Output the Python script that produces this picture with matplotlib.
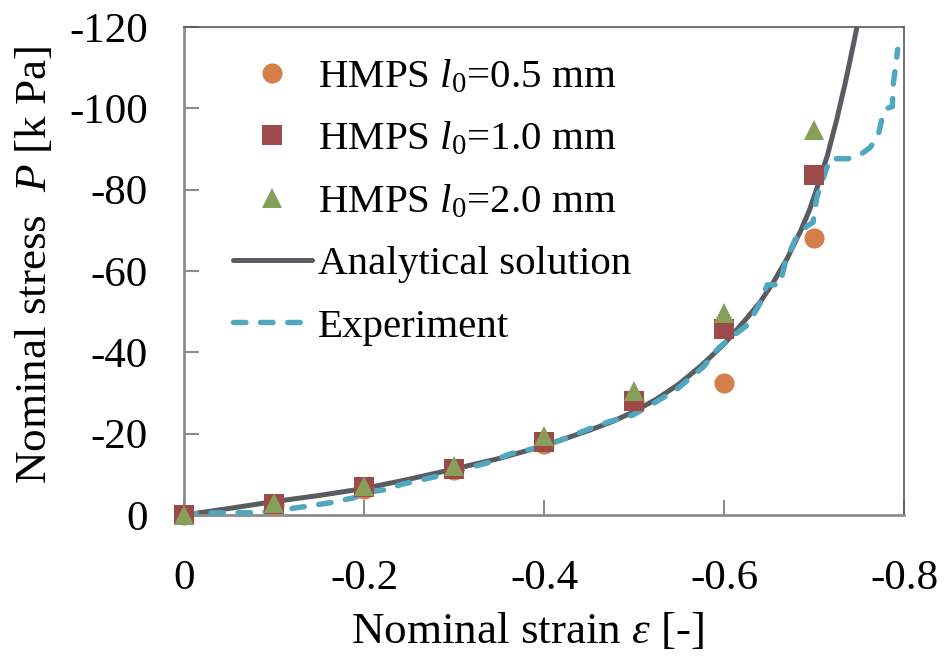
import matplotlib
matplotlib.use("Agg")
import matplotlib.pyplot as plt
import numpy as np

plt.rcParams['font.family'] = ['Liberation Serif', 'DejaVu Serif']
plt.rcParams['mathtext.fontset'] = 'custom'
plt.rcParams['mathtext.rm'] = 'Liberation Serif'
plt.rcParams['mathtext.it'] = 'Liberation Serif:italic'
plt.rcParams['mathtext.bf'] = 'Liberation Serif:bold'

# ---- data ----
hmps_strain = [0, -0.1, -0.2, -0.3, -0.4, -0.5, -0.6, -0.7]
hmps_05 = [0, -2.5, -6.5, -11.0, -17.5, -28.0, -32.5, -68.0]
hmps_10 = [0, -2.7, -6.8, -11.2, -18.0, -28.0, -45.8, -83.6]
hmps_20 = [0, -3.0, -7.2, -12.0, -19.5, -30.5, -49.7, -94.7]

anal_strain = [0, -0.05, -0.1, -0.15, -0.2, -0.25, -0.3, -0.35, -0.4, -0.45,
               -0.475, -0.5, -0.525, -0.55, -0.575, -0.6, -0.625, -0.64,
               -0.655, -0.67, -0.685, -0.695, -0.705, -0.715, -0.725, -0.735,
               -0.745, -0.755]
anal_stress = [0, -1.6, -3.3, -4.8, -6.5, -8.8, -11.3, -13.9, -17.0, -20.8,
               -22.9, -25.4, -28.5, -32.2, -36.8, -42.0, -48.3, -52.3,
               -57.3, -63.0, -69.8, -75.0, -81.5, -88.5, -97.0, -106.5,
               -117.0, -128.0]

exp_strain = [0, -0.018, -0.081, -0.107, -0.132, -0.162, -0.188, -0.207, -0.223,
              -0.243, -0.277, -0.303, -0.337, -0.362, -0.392, -0.42, -0.448,
              -0.473, -0.499, -0.526, -0.548, -0.577, -0.592, -0.604, -0.626,
              -0.64, -0.648, -0.662, -0.668, -0.679, -0.692, -0.699, -0.703,
              -0.712, -0.718, -0.738, -0.754, -0.762, -0.771, -0.776, -0.781,
              -0.787, -0.788, -0.792, -0.793]
exp_stress = [0, -0.5, -0.6, -1.2, -2.0, -3.0, -4.2, -5.7, -6.2, -7.6, -9.3,
              -10.8, -12.8, -15.0, -16.5, -18.5, -21.0, -23.0, -24.6, -28.0,
              -31.0, -36.4, -40.6, -43.0, -46.7, -52.0, -56.6, -56.6, -62.0,
              -67.7, -71.0, -72.0, -78.0, -84.0, -87.6, -87.6, -89.0, -90.3,
              -93.0, -98.0, -100.0, -100.4, -105.8, -112.7, -114.5]

labels = ['HMPS $l_0$=0.5 mm', 'HMPS $l_0$=1.0 mm', 'HMPS $l_0$=2.0 mm',
          'Analytical solution', 'Experiment']

x_ticks = [0, -0.2, -0.4, -0.6, -0.8]
x_ticklabels = ['0', '-0.2', '-0.4', '-0.6', '-0.8']
y_ticks = [0, -20, -40, -60, -80, -100, -120]

# ---- figure ----
fig = plt.figure(figsize=(9.47, 6.64), dpi=100)
ax = fig.add_axes([184/947, 1 - 515/664, 720/947, 488/664])

c_orange = '#D5804A'
c_red = '#9D4A4B'
c_green = '#879F58'
c_gray = '#595C60'
c_blue = '#4FA8C0'

l_anal, = ax.plot(anal_strain, anal_stress, color=c_gray, lw=3.6,
                  solid_capstyle='round', zorder=2)
l_exp, = ax.plot(exp_strain, exp_stress, color=c_blue, lw=3.9,
                 dashes=(2.3, 2.7), dash_capstyle='round', zorder=3)
m1, = ax.plot(hmps_strain, hmps_05, 'o', color=c_orange, ms=14.5, mew=0,
              zorder=4, clip_on=False)
m2, = ax.plot(hmps_strain, hmps_10, 's', color=c_red, ms=14.5, mew=0,
              zorder=5, clip_on=False)
m3, = ax.plot(hmps_strain, hmps_20, '^', color=c_green, ms=15, mew=0,
              zorder=6, clip_on=False)

ax.set_xlim(0, -0.8)
ax.set_ylim(0, -120)
ax.set_xticks(x_ticks)
ax.set_xticklabels(x_ticklabels)
ax.set_yticks(y_ticks)
ax.set_yticklabels([str(v) for v in y_ticks])

for s in ['left', 'bottom']:
    ax.spines[s].set_color('#8C8C8C')
    ax.spines[s].set_linewidth(2.0)
for s in ['top', 'right']:
    ax.spines[s].set_color('#595959')
    ax.spines[s].set_linewidth(1.2)

ax.tick_params(axis='both', direction='in', length=11, width=1.5,
               color='#8C8C8C', labelsize=31)
ax.tick_params(axis='y', pad=26)
ax.tick_params(axis='x', pad=32)

ax.set_xlabel(r'Nominal strain $\varepsilon$ [-]', fontsize=32.5)
ax.xaxis.set_label_coords(0.478, -0.197)
ax.set_ylabel(r'Nominal stress  $P$ [k Pa]', fontsize=32.5)
ax.yaxis.set_label_coords(-0.179, 0.512)

ax.legend([m1, m2, m3, l_anal, l_exp], labels, loc='upper left',
          bbox_to_anchor=(0.068, 0.935), frameon=False, fontsize=29.5,
          handlelength=1.93, handletextpad=0.15, labelspacing=0.6,
          borderaxespad=0.0, borderpad=0.0, numpoints=1)

fig.savefig('out.png', dpi=100)
